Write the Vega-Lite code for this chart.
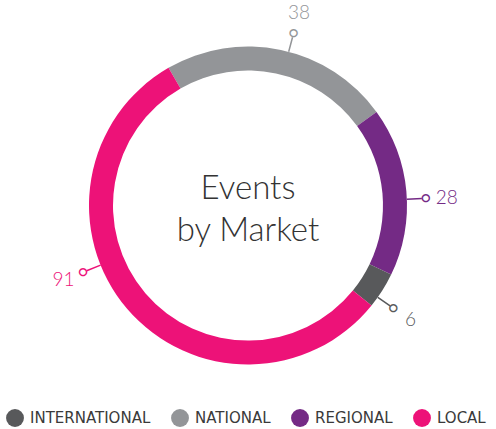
{
  "$schema": "https://vega.github.io/schema/vega-lite/v6.json",
  "width": 496,
  "height": 411,
  "autosize": {"type": "none"},
  "padding": {"left": 0, "top": 0, "right": 0, "bottom": 18},
  "background": "white",
  "config": {"view": {"stroke": null}},
  "layer": [
    {
      "data": {"values": [
        {"market": "National", "value": 38},
        {"market": "Regional", "value": 28},
        {"market": "International", "value": 6},
        {"market": "Local", "value": 91}
      ]},
      "transform": [{"window": [{"op": "row_number", "as": "seq"}]}],
      "encoding": {
        "theta": {"field": "value", "type": "quantitative", "stack": true, "scale": {"range": [-0.5236, 5.7596]}},
        "order": {"field": "seq", "type": "quantitative"}
      },
      "resolve": {"scale": {"theta": "independent"}},
      "layer": [
        {
          "mark": {"type": "arc", "radius": 159, "radius2": 135},
          "encoding": {
            "color": {
              "field": "market", "type": "nominal",
              "scale": {"domain": ["International", "National", "Regional", "Local"], "range": ["#58595B", "#939598", "#742A85", "#ED1278"]},
              "legend": {
                "orient": "none", "legendX": 6, "legendY": 409, "direction": "horizontal", "title": null,
                "symbolType": "circle", "symbolSize": 320, "symbolStrokeWidth": 0, "symbolOpacity": 1,
                "labelFont": "DejaVu Sans", "labelFontSize": 15, "labelColor": "#3a3a3a",
                "columnPadding": 20, "labelOffset": 6, "labelExpr": "upper(datum.label)"
              }
            }
          }
        },
        {
          "mark": {"type": "arc", "radius": 174, "radius2": 159, "padAngle": 3.1416, "filled": false, "strokeWidth": 1.5, "thetaOffset": 0.05},
          "encoding": {
            "stroke": {"field": "market", "type": "nominal", "scale": {"domain": ["International", "National", "Regional", "Local"], "range": ["#58595B", "#939598", "#742A85", "#ED1278"]}, "legend": null},
            "strokeOpacity": {"condition": {"test": "datum.market === 'Local'", "value": 0}, "value": 1}
          }
        },
        {
          "mark": {"type": "arc", "radius": 174, "radius2": 159, "padAngle": 3.1416, "filled": false, "strokeWidth": 1.5},
          "encoding": {
            "theta": {"field": "value", "type": "quantitative", "stack": true, "scale": {"range": [0.7049, 5.7314]}},
            "stroke": {"field": "market", "type": "nominal", "scale": {"domain": ["International", "National", "Regional", "Local"], "range": ["#58595B", "#939598", "#742A85", "#ED1278"]}, "legend": null},
            "strokeOpacity": {"condition": {"test": "datum.market === 'Local'", "value": 1}, "value": 0}
          }
        },
        {
          "mark": {"type": "text", "radius": 178, "text": "●", "font": "DejaVu Sans", "fontSize": 11, "align": "center", "baseline": "middle", "thetaOffset": 0.05},
          "encoding": {
            "fill": {"field": "market", "type": "nominal", "scale": {"domain": ["International", "National", "Regional", "Local"], "range": ["#58595B", "#939598", "#742A85", "#ED1278"]}, "legend": null},
            "opacity": {"condition": {"test": "datum.market === 'Local'", "value": 0}, "value": 1}
          }
        },
        {
          "mark": {"type": "text", "radius": 178, "text": "●", "font": "DejaVu Sans", "fontSize": 11, "align": "center", "baseline": "middle", "thetaOffset": 0.323},
          "encoding": {
            "fill": {"field": "market", "type": "nominal", "scale": {"domain": ["International", "National", "Regional", "Local"], "range": ["#58595B", "#939598", "#742A85", "#ED1278"]}, "legend": null},
            "opacity": {"condition": {"test": "datum.market === 'Local'", "value": 1}, "value": 0}
          }
        },
        {
          "mark": {"type": "text", "radius": 178, "text": "●", "font": "DejaVu Sans", "fontSize": 7, "align": "center", "baseline": "middle", "fill": "white", "thetaOffset": 0.05},
          "encoding": {
            "opacity": {"condition": {"test": "datum.market === 'Local'", "value": 0}, "value": 1}
          }
        },
        {
          "mark": {"type": "text", "radius": 178, "text": "●", "font": "DejaVu Sans", "fontSize": 7, "align": "center", "baseline": "middle", "fill": "white", "thetaOffset": 0.323},
          "encoding": {
            "opacity": {"condition": {"test": "datum.market === 'Local'", "value": 1}, "value": 0}
          }
        },
        {
          "mark": {"type": "text", "radius": 199, "font": "Lato", "fontWeight": 300, "fontSize": 19, "align": "center", "baseline": "middle", "thetaOffset": 0.05},
          "encoding": {
            "text": {"field": "value", "type": "quantitative"},
            "fill": {"field": "market", "type": "nominal", "scale": {"domain": ["International", "National", "Regional", "Local"], "range": ["#58595B", "#939598", "#742A85", "#ED1278"]}, "legend": null},
            "opacity": {"condition": {"test": "datum.market === 'Local'", "value": 0}, "value": 1}
          }
        },
        {
          "mark": {"type": "text", "radius": 199, "font": "Lato", "fontWeight": 300, "fontSize": 19, "align": "center", "baseline": "middle", "thetaOffset": 0.323},
          "encoding": {
            "text": {"field": "value", "type": "quantitative"},
            "fill": {"field": "market", "type": "nominal", "scale": {"domain": ["International", "National", "Regional", "Local"], "range": ["#58595B", "#939598", "#742A85", "#ED1278"]}, "legend": null},
            "opacity": {"condition": {"test": "datum.market === 'Local'", "value": 1}, "value": 0}
          }
        }
      ]
    },
    {
      "data": {"values": [{"title": "Events by Market"}]},
      "mark": {"type": "text", "text": ["Events", "by Market"], "font": "Lato", "fontWeight": 300, "fontSize": 33, "lineHeight": 42, "color": "#333333", "align": "center", "baseline": "middle", "dy": -17},
      "encoding": {}
    }
  ]
}
